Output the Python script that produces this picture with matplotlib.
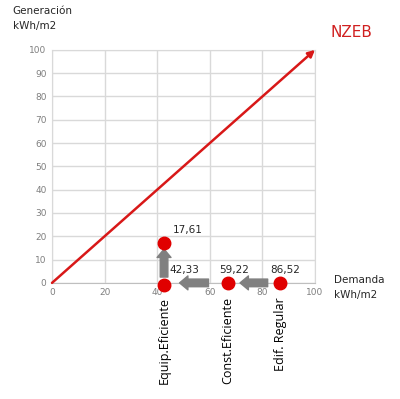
import matplotlib.pyplot as plt

# puntos (demanda, generacion) tal como aparecen en el grafico
escenarios = ['Edif. Regular', 'Const.Eficiente', 'Equip.Eficiente']
demanda = [86.7, 67.0, 42.6]
generacion = [0, 0, -1]
etiquetas = ['86,52', '59,22', '42,33']

# punto con generacion
demanda_gen = [42.6]
generacion_gen = [17.0]
etiqueta_gen = ['17,61']

# linea NZEB
nzeb_x = [0, 100]
nzeb_y = [0, 100]

# flechas grises (origen -> destino)
flechas = [((82.0, 0), (71.5, 0)), ((59.5, 0), (48.5, 0)), ((42.6, 2.5), (42.6, 14.5))]

rojo = '#e00000'
gris = '#808080'

fig = plt.figure(figsize=(4, 3.99), dpi=100)
ax = fig.add_axes([0.13, 0.291, 0.6575, 0.584])

ax.set_xlim(0, 100)
ax.set_ylim(0, 100)
ax.set_xticks(range(0, 101, 20))
ax.set_yticks(range(0, 101, 10))
ax.grid(True, color='#d9d9d9', linewidth=1)
ax.set_axisbelow(True)
ax.tick_params(length=0, labelsize=6.5, labelcolor='#7f7f7f', pad=4)
for s in ax.spines.values():
    s.set_color('#d9d9d9')
ax.spines['bottom'].set_color('#bfbfbf')

# linea NZEB con flecha
ax.annotate('', xy=(nzeb_x[1], nzeb_y[1]), xytext=(nzeb_x[0], nzeb_y[0]),
            arrowprops=dict(arrowstyle='-|>', color='#d81818', lw=1.8,
                            mutation_scale=10, shrinkA=0, shrinkB=0),
            annotation_clip=False)

for (x0, y0), (x1, y1) in flechas:
    ax.annotate('', xy=(x1, y1), xytext=(x0, y0),
                arrowprops=dict(arrowstyle='simple,head_length=0.6,head_width=1.0,tail_width=0.55',
                                color=gris, mutation_scale=10, shrinkA=0, shrinkB=0),
                annotation_clip=False)

ax.plot(demanda, generacion, 'o', color=rojo, markersize=9, clip_on=False, zorder=5)
ax.plot(demanda_gen, generacion_gen, 'o', color=rojo, markersize=9, clip_on=False, zorder=5)

for x, y, t in zip(demanda, generacion, etiquetas):
    ax.annotate(t, (x, 0), xytext=(4, 6), textcoords='offset points', fontsize=7.5,
                color='#262626', ha='left' if t == '42,33' else 'center', va='bottom')
for x, y, t in zip(demanda_gen, generacion_gen, etiqueta_gen):
    ax.annotate(t, (x, y), xytext=(6, 6), textcoords='offset points', fontsize=7.5,
                color='#262626', ha='left', va='bottom')

# nombres de los escenarios en vertical debajo del eje
for x, nombre in zip(demanda, escenarios):
    ax.text(x, -6, nombre, rotation=90, ha='center', va='top', fontsize=9,
            color='#000000', family='Open Sans')

fig.text(0.032, 0.985, 'Generación\nkWh/m2', ha='left', va='top', fontsize=7.5,
         linespacing=1.6, color='#262626')
fig.text(0.835, 0.31, 'Demanda\nkWh/m2', ha='left', va='top', fontsize=7.5,
         linespacing=1.6, color='#262626')
fig.text(0.825, 0.918, 'NZEB', ha='left', va='center', fontsize=11, color='#d02020')

fig.savefig('out.png', dpi=100)
